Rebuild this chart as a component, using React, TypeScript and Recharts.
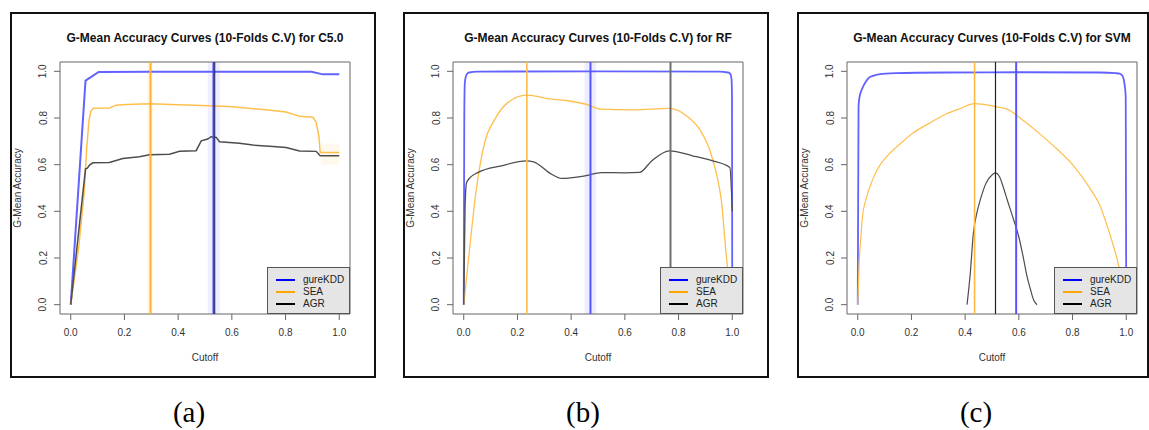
import React from 'react';
import { LineChart, Line, XAxis, YAxis, ReferenceLine, ReferenceArea } from 'recharts';

const FONT = '"Liberation Sans", Arial, Helvetica, sans-serif';

const xTicks = [0, 0.2, 0.4, 0.6, 0.8, 1.0];
const yTicks = [0, 0.2, 0.4, 0.6, 0.8, 1.0];
const legendNames = ['gureKDD', 'SEA', 'AGR'];
const panelTitles = [
  'G-Mean Accuracy Curves (10-Folds C.V) for C5.0',
  'G-Mean Accuracy Curves (10-Folds C.V) for RF',
  'G-Mean Accuracy Curves (10-Folds C.V) for SVM',
];
const panelLetters = ['(a)', '(b)', '(c)'];

// ---- Panel (a) C5.0 ----
const aGureX = [0, 0.055, 0.104, 0.3, 0.6, 0.896, 0.939, 1.0];
const aGureY = [0, 0.96, 0.997, 0.998, 0.998, 0.998, 0.987, 0.987];
const aSeaX = [0, 0.03, 0.05, 0.06, 0.068, 0.075, 0.085, 0.144, 0.169, 0.206, 0.294, 0.4, 0.517, 0.604, 0.728, 0.802, 0.852, 0.902, 0.914, 0.924, 0.929, 1.0];
const aSeaY = [0, 0.25, 0.48, 0.68, 0.79, 0.83, 0.842, 0.843, 0.855, 0.858, 0.861, 0.857, 0.852, 0.848, 0.835, 0.826, 0.807, 0.803, 0.781, 0.724, 0.652, 0.652];
const aAgrX = [0, 0.055, 0.062, 0.07, 0.082, 0.144, 0.194, 0.256, 0.293, 0.368, 0.405, 0.467, 0.486, 0.51, 0.523, 0.542, 0.554, 0.628, 0.678, 0.753, 0.802, 0.852, 0.914, 0.929, 1.0];
const aAgrY = [0, 0.582, 0.585, 0.598, 0.608, 0.609, 0.626, 0.634, 0.642, 0.645, 0.657, 0.66, 0.702, 0.71, 0.72, 0.717, 0.698, 0.692, 0.684, 0.678, 0.674, 0.659, 0.657, 0.638, 0.638];
const aCutSea = 0.297;
const aCutGure = 0.532;
const aCutAgr = 0.536;

// ---- Panel (b) RF ----
const bGureX = [0, 0.002, 0.004, 0.01, 0.02, 0.05, 0.5, 0.95, 0.984, 0.992, 0.997, 0.999, 1.0];
const bGureY = [0, 0.8, 0.95, 0.985, 0.995, 0.999, 1.0, 0.999, 0.995, 0.99, 0.97, 0.9, 0];
const bSeaX = [0, 0.02, 0.047, 0.078, 0.116, 0.165, 0.234, 0.327, 0.389, 0.451, 0.513, 0.63, 0.766, 0.829, 0.878, 0.915, 0.94, 0.959, 0.979, 1.0];
const bSeaY = [0, 0.22, 0.495, 0.695, 0.795, 0.867, 0.898, 0.881, 0.874, 0.86, 0.838, 0.835, 0.841, 0.81, 0.752, 0.667, 0.566, 0.45, 0.195, 0];
const bAgrX = [0, 0.005, 0.01, 0.02, 0.054, 0.14, 0.234, 0.26, 0.327, 0.364, 0.451, 0.513, 0.6, 0.655, 0.7, 0.766, 0.852, 0.927, 0.991, 1.0];
const bAgrY = [0, 0.42, 0.52, 0.54, 0.567, 0.595, 0.616, 0.612, 0.559, 0.541, 0.552, 0.566, 0.565, 0.567, 0.616, 0.659, 0.638, 0.616, 0.588, 0.4];
const bCutSea = 0.235;
const bCutGure = 0.472;
const bCutAgr = 0.77;

// ---- Panel (c) SVM ----
const cGureX = [0, 0.003, 0.006, 0.016, 0.03, 0.041, 0.06, 0.078, 0.14, 0.33, 0.6, 0.9, 0.96, 0.975, 0.985, 0.993, 0.998, 1.0];
const cGureY = [0, 0.85, 0.885, 0.924, 0.955, 0.972, 0.982, 0.987, 0.992, 0.995, 0.996, 0.995, 0.992, 0.99, 0.982, 0.95, 0.89, 0];
const cSeaX = [0, 0.005, 0.012, 0.018, 0.031, 0.056, 0.081, 0.11, 0.143, 0.205, 0.267, 0.329, 0.38, 0.435, 0.516, 0.556, 0.618, 0.68, 0.742, 0.804, 0.867, 0.9, 0.929, 0.966, 0.985, 1.0];
const cSeaY = [0, 0.17, 0.295, 0.38, 0.452, 0.538, 0.595, 0.638, 0.674, 0.735, 0.778, 0.817, 0.84, 0.862, 0.848, 0.838, 0.788, 0.73, 0.667, 0.595, 0.495, 0.43, 0.337, 0.194, 0.1, 0];
const cAgrX = [0.407, 0.418, 0.431, 0.445, 0.457, 0.479, 0.5, 0.513, 0.528, 0.543, 0.556, 0.58, 0.6, 0.618, 0.63, 0.643, 0.655, 0.668];
const cAgrY = [0, 0.12, 0.31, 0.4, 0.452, 0.524, 0.556, 0.565, 0.548, 0.5, 0.452, 0.366, 0.29, 0.194, 0.123, 0.066, 0.02, 0];
const cCutSea = 0.435;
const cCutGure = 0.59;
const cCutAgr = 0.513;

const zip = (xs: number[], ys: number[]) => xs.map((x, i) => ({ x, y: ys[i] }));

const BLUE = '#6262ff';
const ORANGE = '#ffbf4d';
const BLACK = '#4d4d4d';
const legendColors = ['#0000ff', '#ffa500', '#000000'];

const YTick = (props: any) => {
  const { x, y, payload } = props;
  const cx = x - 11;
  return (
    <text
      x={cx}
      y={y}
      dy="0.35em"
      transform={`rotate(-90 ${cx} ${y})`}
      textAnchor="middle"
      fontSize={10}
      fontFamily={FONT}
      fill="#333"
    >
      {Number(payload.value).toFixed(1)}
    </text>
  );
};

type Band = { x1: number; x2: number; y1?: number; y2?: number; fill: string; op: number };
type VLine = { x: number; color: string; w: number; op?: number };
type Series = { data: { x: number; y: number }[]; color: string; w: number; curve: 'linear' | 'monotone' };

const Panel = ({
  left,
  width,
  title,
  letter,
  letterX,
  series,
  bands,
  vlines,
}: {
  left: number;
  width: number;
  title: string;
  letter: string;
  letterX: number;
  series: Series[];
  bands: Band[];
  vlines: VLine[];
}) => {
  const top = 12;
  const H = 366;
  return (
    <>
      <div
        style={{
          position: 'absolute',
          left,
          top,
          width,
          height: H,
          boxSizing: 'border-box',
          border: '2px solid #111',
        }}
      />
      <div style={{ position: 'absolute', left, top, width, height: H }}>
        <LineChart width={width} height={H} margin={{ top: 50, right: width - 340, bottom: 0, left: 0 }}>
          <XAxis
            type="number"
            dataKey="x"
            domain={[-0.04, 1.04]}
            ticks={xTicks}
            allowDataOverflow
            height={64}
            axisLine={false}
            tickLine={{ stroke: '#666' }}
            tickSize={6}
            tickMargin={9}
            tick={{ fontSize: 10, fill: '#333', fontFamily: FONT }}
            tickFormatter={(v: number) => v.toFixed(1)}
            interval={0}
          />
          <YAxis
            type="number"
            domain={[-0.04, 1.04]}
            ticks={yTicks}
            allowDataOverflow
            width={50}
            axisLine={false}
            tickLine={{ stroke: '#666' }}
            tickSize={6}
            tickMargin={0}
            tick={<YTick />}
            interval={0}
          />
          {bands.map((b, i) => (
            <ReferenceArea
              key={'b' + i}
              x1={b.x1}
              x2={b.x2}
              y1={b.y1 ?? -0.04}
              y2={b.y2 ?? 1.04}
              fill={b.fill}
              fillOpacity={b.op}
              stroke="none"
            />
          ))}
          {series.map((s, i) => (
            <Line
              key={'s' + i}
              data={s.data}
              dataKey="y"
              type={s.curve}
              stroke={s.color}
              strokeWidth={s.w}
              dot={false}
              activeDot={false}
              isAnimationActive={false}
            />
          ))}
          {vlines.map((v, i) => (
            <ReferenceLine
              key={'v' + i}
              x={v.x}
              stroke={v.color}
              strokeWidth={v.w}
              strokeOpacity={v.op ?? 1}
            />
          ))}
          <ReferenceArea x1={-0.04} x2={1.04} y1={-0.04} y2={1.04} fill="none" stroke="#666" strokeWidth={1} />
        </LineChart>
        <div
          style={{
            position: 'absolute',
            left: 50,
            top: 19,
            width: 290,
            textAlign: 'center',
            fontFamily: FONT,
            fontWeight: 'bold',
            fontSize: 12,
            lineHeight: '14px',
            color: '#111',
            whiteSpace: 'nowrap',
          }}
        >
          {title}
        </div>
        <div
          style={{
            position: 'absolute',
            left: 50,
            top: 339,
            width: 290,
            textAlign: 'center',
            fontFamily: FONT,
            fontSize: 10,
            lineHeight: '14px',
            color: '#333',
          }}
        >
          Cutoff
        </div>
        <div
          style={{
            position: 'absolute',
            left: 8 - 126,
            top: 176 - 7,
            width: 252,
            height: 14,
            textAlign: 'center',
            fontFamily: FONT,
            fontSize: 10,
            lineHeight: '14px',
            color: '#333',
            transform: 'rotate(-90deg)',
          }}
        >
          G-Mean Accuracy
        </div>
        <div
          style={{
            position: 'absolute',
            left: 257,
            top: 255,
            width: 83,
            height: 47,
            boxSizing: 'border-box',
            border: '1px solid #555',
            background: '#e5e5e5',
          }}
        >
          {legendNames.map((n, i) => (
            <React.Fragment key={n}>
              <div
                style={{
                  position: 'absolute',
                  left: 8,
                  top: 12 + i * 12 - 1,
                  width: 19,
                  height: 0,
                  borderTop: `2.5px solid ${legendColors[i]}`,
                }}
              />
              <div
                style={{
                  position: 'absolute',
                  left: 35,
                  top: 12 + i * 12 - 6,
                  fontFamily: FONT,
                  fontSize: 10,
                  lineHeight: '12px',
                  color: '#222',
                  whiteSpace: 'nowrap',
                }}
              >
                {n}
              </div>
            </React.Fragment>
          ))}
        </div>
      </div>
      <div
        style={{
          position: 'absolute',
          left: letterX - 40,
          top: 396,
          width: 80,
          textAlign: 'center',
          fontFamily: '"Liberation Serif", "DejaVu Serif", serif',
          fontSize: 29,
          lineHeight: '32px',
          color: '#000',
        }}
      >
        {letter}
      </div>
    </>
  );
};

export default function App() {
  const panelA: Series[] = [
    { data: zip(aGureX, aGureY), color: BLUE, w: 2, curve: 'linear' },
    { data: zip(aSeaX, aSeaY), color: ORANGE, w: 1.5, curve: 'linear' },
    { data: zip(aAgrX, aAgrY), color: BLACK, w: 1.5, curve: 'linear' },
  ];
  const panelB: Series[] = [
    { data: zip(bGureX, bGureY), color: BLUE, w: 1.8, curve: 'monotone' },
    { data: zip(bSeaX, bSeaY), color: ORANGE, w: 1.3, curve: 'monotone' },
    { data: zip(bAgrX, bAgrY), color: BLACK, w: 1.3, curve: 'monotone' },
  ];
  const panelC: Series[] = [
    { data: zip(cGureX, cGureY), color: BLUE, w: 1.8, curve: 'monotone' },
    { data: zip(cSeaX, cSeaY), color: ORANGE, w: 1.2, curve: 'monotone' },
    { data: zip(cAgrX, cAgrY), color: BLACK, w: 1.2, curve: 'monotone' },
  ];
  return (
    <div
      style={{
        position: 'absolute',
        left: 0,
        top: 0,
        width: 1149,
        height: 430,
        overflow: 'hidden',
        background: '#fff',
      }}
    >
      <Panel
        left={10}
        width={366}
        title={panelTitles[0]}
        letter={panelLetters[0]}
        letterX={189}
        series={panelA}
        bands={[
          { x1: aCutSea - 0.011, x2: aCutSea + 0.008, fill: '#ffa500', op: 0.12 },
          { x1: 0.51, x2: 0.556, fill: '#6666ff', op: 0.1 },
          { x1: 0.932, x2: 1.0, y1: 0.6, y2: 0.69, fill: '#ffa500', op: 0.07 },
        ]}
        vlines={[
          { x: aCutSea, color: '#ffb238', w: 2 },
          { x: aCutGure, color: '#4646ff', w: 2.2 },
          { x: aCutAgr, color: '#111', w: 1.5, op: 0.55 },
        ]}
      />
      <Panel
        left={403}
        width={366}
        title={panelTitles[1]}
        letter={panelLetters[1]}
        letterX={583}
        series={panelB}
        bands={[{ x1: 0.45, x2: 0.493, fill: '#7777ff', op: 0.13 }]}
        vlines={[
          { x: bCutSea, color: '#ffbb4a', w: 1.6 },
          { x: bCutGure, color: '#5555ff', w: 2 },
          { x: bCutAgr, color: '#6e6e6e', w: 2 },
        ]}
      />
      <Panel
        left={797}
        width={352}
        title={panelTitles[2]}
        letter={panelLetters[2]}
        letterX={976}
        series={panelC}
        bands={[]}
        vlines={[
          { x: cCutSea, color: '#ffb840', w: 1.6 },
          { x: cCutAgr, color: '#222', w: 1.2 },
          { x: cCutGure, color: '#5555ff', w: 2 },
        ]}
      />
    </div>
  );
}
